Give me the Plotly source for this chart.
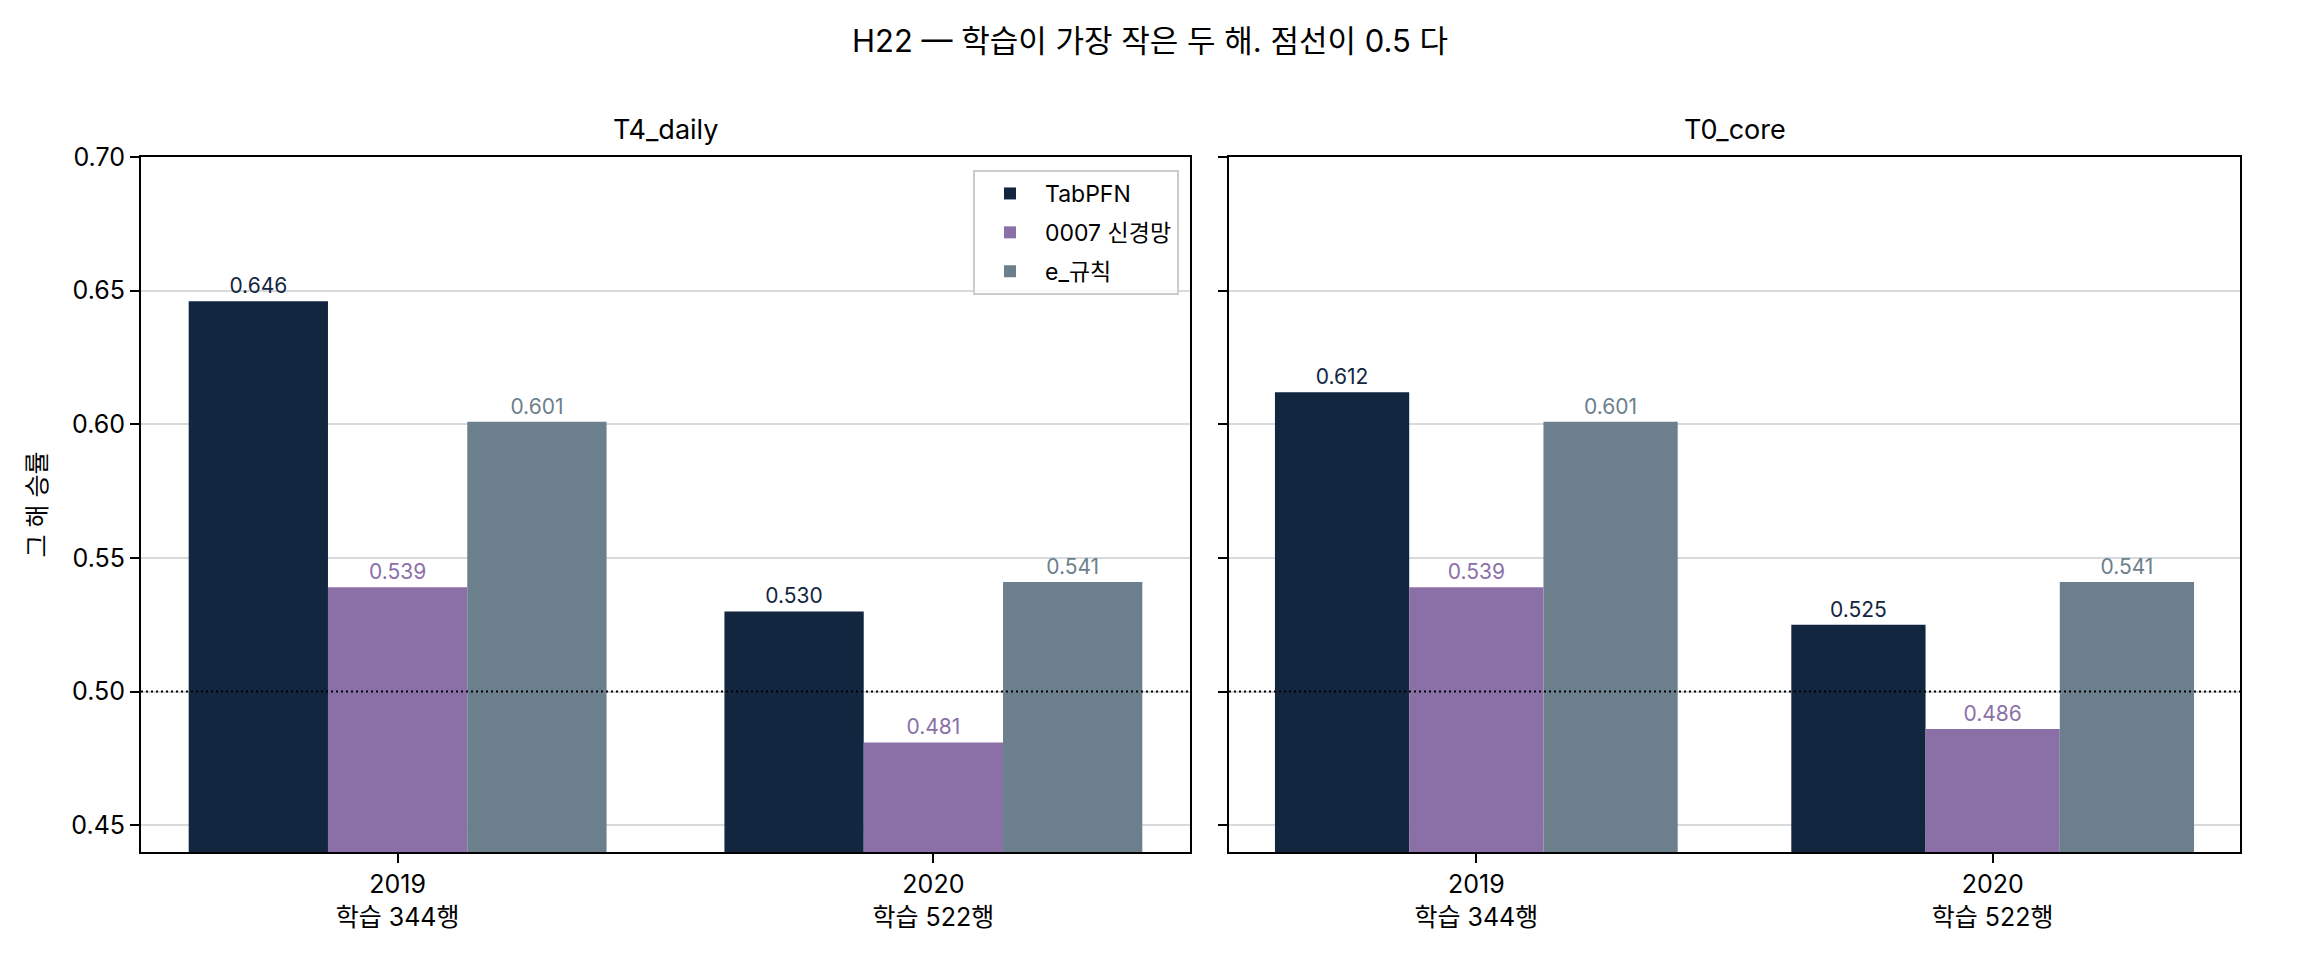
import plotly.graph_objects as go

# ---- data ----
x_pos = [0, 1]
tick_labels = ["2019<br>학습 344행", "2020<br>학습 522행"]
series_names = ["TabPFN", "0007 신경망", "e_규칙"]
series_colors = ["#13263f", "#8b70a8", "#6c7f8c"]
panel_titles = ["T4_daily", "T0_core"]

t4_tabpfn = [0.646, 0.530]
t4_nn = [0.539, 0.481]
t4_rule = [0.601, 0.541]

t0_tabpfn = [0.612, 0.525]
t0_nn = [0.539, 0.486]
t0_rule = [0.601, 0.541]

y_ticks = [0.45, 0.50, 0.55, 0.60, 0.65, 0.70]
ref_line = 0.5

panels = [
    [t4_tabpfn, t4_nn, t4_rule],
    [t0_tabpfn, t0_nn, t0_rule],
]

FONT = "Inter, Noto Sans CJK KR, sans-serif"
W, H = 2300, 960

fig = go.Figure()

axes = [("x", "y"), ("x2", "y2")]
for p, (vals_list, (xa, ya)) in enumerate(zip(panels, axes)):
    for name, color, vals in zip(series_names, series_colors, vals_list):
        fig.add_trace(go.Bar(
            x=x_pos, y=vals, name=name,
            marker=dict(color=color, line=dict(width=0)),
            text=[f"{v:.3f}" for v in vals],
            textposition="outside",
            textfont=dict(family=FONT, size=21, color=color),
            cliponaxis=False,
            xaxis=xa, yaxis=ya,
            showlegend=(p == 0),
            legendgroup=name,
        ))

xd1 = [141 / W, 1190 / W]
xd2 = [1229 / W, 2240 / W]
yd = [108 / H, 1 - 157 / H]

axis_common = dict(
    showline=True, linecolor="black", linewidth=2, mirror=True,
    ticks="outside", ticklen=9, tickwidth=2, tickcolor="black",
    tickfont=dict(family=FONT, size=25, color="black"),
    zeroline=False,
)

fig.update_layout(
    width=W, height=H,
    margin=dict(l=0, r=0, t=0, b=0, autoexpand=False),
    paper_bgcolor="white", plot_bgcolor="white",
    barmode="group", bargap=0.22, bargroupgap=0,
    font=dict(family=FONT, size=21, color="black"),
    xaxis=dict(domain=xd1, range=[-0.479, 1.479], tickvals=x_pos, ticktext=tick_labels,
               showgrid=False, anchor="y", **axis_common),
    xaxis2=dict(domain=xd2, range=[-0.479, 1.479], tickvals=x_pos, ticktext=tick_labels,
                showgrid=False, anchor="y2", **axis_common),
    yaxis=dict(domain=yd, range=[0.44, 0.70], tickvals=y_ticks, tickformat=".2f",
               showgrid=True, gridcolor="#d7dadd", gridwidth=1.5, anchor="x",
               **axis_common),
    yaxis2=dict(domain=yd, range=[0.44, 0.70], tickvals=y_ticks, showticklabels=False,
                showgrid=True, gridcolor="#d7dadd", gridwidth=1.5, anchor="x2", matches="y",
                **axis_common),
    legend=dict(
        x=1179 / W, y=1 - 170 / H, xanchor="right", yanchor="top",
        bgcolor="rgba(255,255,255,0.8)", bordercolor="#cccccc", borderwidth=2,
        font=dict(family=FONT, size=23, color="black"),
        tracegroupgap=6, itemwidth=60,
    ),
    title=dict(text="H22 — 학습이 가장 작은 두 해. 점선이 0.5 다",
               x=0.5, xanchor="center", y=1 - 41 / H, yanchor="middle",
               font=dict(family=FONT, size=31, color="black")),
)

# y-axis title
fig.add_annotation(text="그 해 승률", xref="paper", yref="paper",
                   x=36 / W, y=(yd[0] + yd[1]) / 2, textangle=-90,
                   xanchor="center", yanchor="middle", showarrow=False,
                   font=dict(family=FONT, size=25, color="black"))

# subplot titles
for title, dom in zip(panel_titles, [xd1, xd2]):
    fig.add_annotation(text=title, xref="paper", yref="paper",
                       x=(dom[0] + dom[1]) / 2, y=1 - 129 / H,
                       xanchor="center", yanchor="middle", showarrow=False,
                       font=dict(family=FONT, size=27, color="black"))

# dotted reference lines at 0.5
for xa, ya in [("x domain", "y"), ("x2 domain", "y2")]:
    fig.add_shape(type="line", xref=xa, yref=ya, x0=0, x1=1, y0=ref_line, y1=ref_line,
                  line=dict(color="black", width=2, dash="2px,3px"), layer="above")

fig.write_html("out.html", config={"displayModeBar": False},
               post_script="document.body.style.margin='0';")
